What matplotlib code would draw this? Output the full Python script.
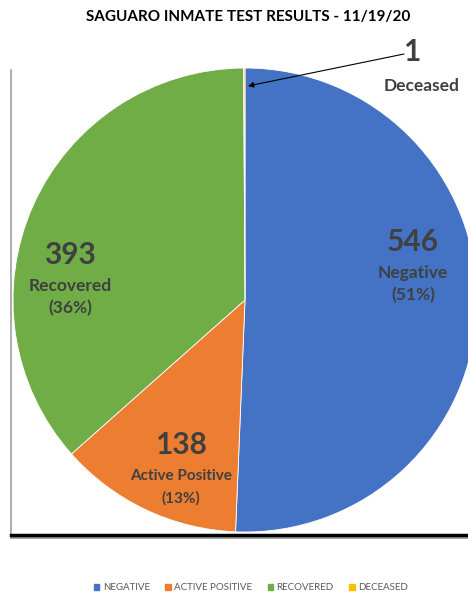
import matplotlib
matplotlib.use("Agg")
import matplotlib.pyplot as plt
from matplotlib.lines import Line2D
from matplotlib.patches import Patch

# data
categories = ["Negative", "Active Positive", "Recovered", "Deceased"]
legend_names = ["NEGATIVE", "ACTIVE POSITIVE", "RECOVERED", "DECEASED"]
counts = [546, 138, 393, 1]
colors = ["#4472C4", "#ED7D31", "#70AD47", "#FFC000"]
title = "SAGUARO INMATE TEST RESULTS - 11/19/20"

plt.rcParams['font.family'] = ['Lato', 'DejaVu Sans']
txt = "#404040"

W, H = 468, 596
fig = plt.figure(figsize=(W / 100, H / 100), dpi=100)
ax = fig.add_axes([0, 0, 1, 1])

# pie (pixel coords, y up)
cx, cy, r = 245, H - 300, 232
ax.pie(counts, colors=colors, startangle=90, counterclock=False,
       center=(cx, cy), radius=r, frame=True,
       wedgeprops=dict(edgecolor='white', linewidth=0.6))
ax.set_xlim(0, W)
ax.set_ylim(0, H)
ax.set_aspect('equal')
ax.axis('off')

total = sum(counts)
pct = [round(c * 100 / total) for c in counts]

# labels inside slices
pos = {0: (413, 242), 1: (181, 445), 2: (70, 255)}
for i, (x, y) in pos.items():
    fs = 12.5 if i != 1 else 11
    ax.text(x, H - y, str(counts[i]), ha='center', va='center',
            fontsize=21.5, fontweight='bold', color=txt)
    ax.text(x, H - y - 31, categories[i], ha='center', va='center',
            fontsize=fs, fontweight='bold', color=txt)
    ax.text(x, H - y - 53, "(%d%%)" % pct[i], ha='center', va='center',
            fontsize=fs, fontweight='bold', color=txt)

# deceased callout
ax.text(412, H - 52, str(counts[3]), ha='center', va='center',
        fontsize=21.5, fontweight='bold', color=txt)
ax.text(422, H - 86, categories[3], ha='center', va='center',
        fontsize=12.5, fontweight='bold', color=txt)
ax.annotate("", xy=(248, H - 86), xytext=(404, H - 54),
            arrowprops=dict(arrowstyle='-|>', color='black', lw=0.8,
                            mutation_scale=8, shrinkA=0, shrinkB=0))

# title
fig.text(248 / W, 1 - 17 / H, title, ha='center', va='center',
         fontsize=11, fontweight='bold', color='black')

# frame with shadow
ax.add_line(Line2D([11, 11], [H - 70, H - 534], color='#a0a0a0', lw=1.2))
ax.add_line(Line2D([11, W], [H - 537, H - 537], color='#999999', lw=2))
ax.add_line(Line2D([11, W], [H - 534.5, H - 534.5], color='black', lw=2.5))

# legend
handles = [Patch(facecolor=c, edgecolor=c) for c in colors]
fig.legend(handles, legend_names, loc='center',
           bbox_to_anchor=(251 / W, 1 - 588 / H), ncol=4, frameon=False,
           fontsize=7, labelcolor='#595959', handlelength=0.55,
           handleheight=0.55, handletextpad=0.35, columnspacing=1.6,
           borderpad=0)

fig.savefig("out.png", dpi=100)
